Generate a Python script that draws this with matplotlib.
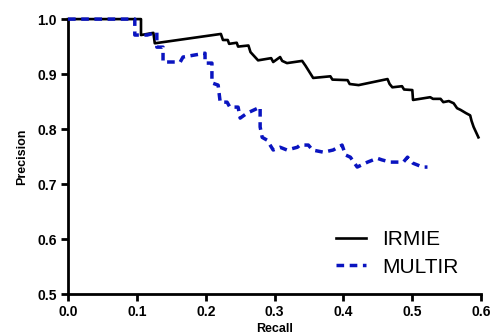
import matplotlib
matplotlib.use('Agg')
import matplotlib.pyplot as plt

plt.rcParams['font.family'] = ['Liberation Sans', 'DejaVu Sans']

# IRMIE precision-recall curve
irmie_recall = [0.0, 0.106, 0.106, 0.124, 0.126, 0.222, 0.225, 0.232, 0.234, 0.245,
                0.247, 0.262, 0.265, 0.276, 0.295, 0.298, 0.308, 0.311, 0.318, 0.340,
                0.345, 0.356, 0.381, 0.384, 0.406, 0.409, 0.422, 0.464, 0.467, 0.471,
                0.485, 0.488, 0.500, 0.501, 0.526, 0.530, 0.541, 0.545, 0.553, 0.560,
                0.565, 0.570, 0.578, 0.584, 0.586, 0.589, 0.596]
irmie_precision = [1.0, 1.0, 0.971, 0.975, 0.956, 0.973, 0.962, 0.962, 0.955, 0.957,
                   0.950, 0.952, 0.940, 0.925, 0.929, 0.922, 0.931, 0.924, 0.920, 0.924,
                   0.915, 0.893, 0.896, 0.890, 0.889, 0.882, 0.880, 0.891, 0.882, 0.876,
                   0.878, 0.872, 0.871, 0.853, 0.858, 0.855, 0.855, 0.849, 0.851, 0.847,
                   0.838, 0.835, 0.829, 0.825, 0.815, 0.804, 0.785]

# MULTIR precision-recall curve
multir_recall = [0.0, 0.097, 0.097, 0.115, 0.129, 0.129, 0.138, 0.138, 0.163, 0.167,
                 0.199, 0.199, 0.209, 0.209, 0.218, 0.221, 0.231, 0.235, 0.247, 0.250,
                 0.260, 0.279, 0.279, 0.282, 0.289, 0.298, 0.308, 0.318, 0.333, 0.337,
                 0.349, 0.355, 0.371, 0.385, 0.398, 0.403, 0.410, 0.420, 0.435, 0.449,
                 0.456, 0.468, 0.487, 0.493, 0.501, 0.515, 0.522]
multir_precision = [1.0, 1.0, 0.971, 0.971, 0.976, 0.949, 0.949, 0.922, 0.922, 0.931,
                    0.938, 0.920, 0.920, 0.884, 0.880, 0.849, 0.849, 0.840, 0.840, 0.820,
                    0.829, 0.840, 0.804, 0.785, 0.780, 0.762, 0.767, 0.762, 0.767, 0.771,
                    0.771, 0.762, 0.758, 0.762, 0.771, 0.753, 0.749, 0.731, 0.740, 0.747,
                    0.744, 0.740, 0.740, 0.749, 0.738, 0.731, 0.731]

x_ticks = [0.0, 0.1, 0.2, 0.3, 0.4, 0.5, 0.6]
y_ticks = [0.5, 0.6, 0.7, 0.8, 0.9, 1.0]

fig = plt.figure(figsize=(4.91, 3.35), dpi=100)
ax = fig.add_axes([0.1385, 0.122, 0.8415, 0.821])

ax.plot(irmie_recall, irmie_precision, color='black', lw=1.9, label='IRMIE',
        clip_on=False, zorder=3)
ax.plot(multir_recall, multir_precision, color='#0a14c0', lw=2.5, ls=(0, (2.2, 1.6)),
        label='MULTIR', clip_on=False, zorder=4)

ax.set_xlim(0, 0.6)
ax.set_ylim(0.5, 1.0)
ax.set_xticks(x_ticks)
ax.set_yticks(y_ticks)
ax.set_xticklabels(['%.1f' % v for v in x_ticks], fontweight='bold', fontsize=10)
ax.set_yticklabels(['%.1f' % v for v in y_ticks], fontweight='bold', fontsize=10)
ax.tick_params(direction='out', length=5, width=2, pad=3)

for side in ['top', 'right']:
    ax.spines[side].set_visible(False)
for side in ['left', 'bottom']:
    ax.spines[side].set_linewidth(2)

ax.set_xlabel('Recall', fontweight='bold', fontsize=9, labelpad=2.5)
ax.set_ylabel('Precision', fontweight='bold', fontsize=9, labelpad=7)

ax.legend(loc='lower right', bbox_to_anchor=(0.99, -0.005), frameon=False, fontsize=15,
          handlelength=1.45, handletextpad=0.75, labelspacing=0.4)

fig.savefig('out.png', dpi=100)
